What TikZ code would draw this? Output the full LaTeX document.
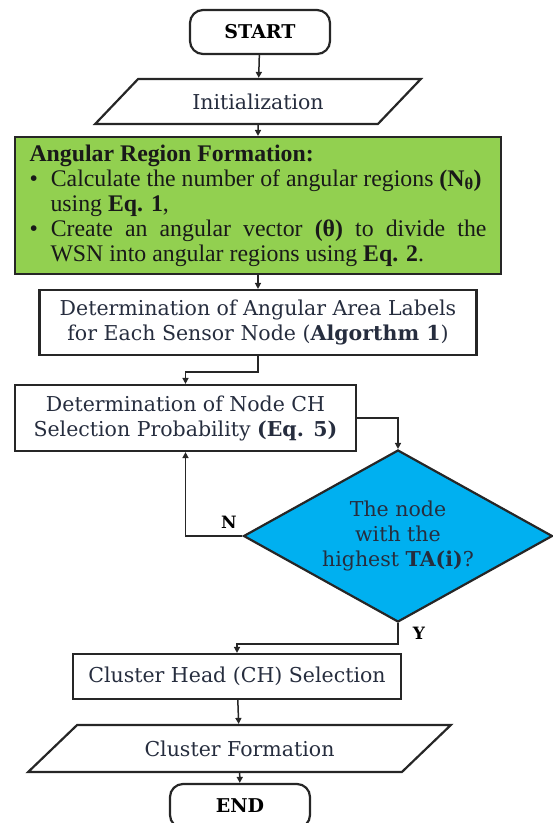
\documentclass[tikz,border=0pt]{standalone}
\usepackage{fontspec}
\setmainfont{Liberation Serif}
\newfontfamily\cambria{DejaVu Serif}
\usetikzlibrary{shapes.geometric,arrows.meta}

\definecolor{inkblue}{RGB}{38,45,62}
\definecolor{regiongreen}{RGB}{146,208,80}
\definecolor{choiceblue}{RGB}{0,176,240}

\tikzset{
  base/.style={draw=black!85, line width=2.2pt, text=inkblue, align=center,
    inner sep=0pt, font=\cambria\fontsize{20.5}{25}\selectfont},
  term/.style={base, rounded corners=13pt, minimum width=140pt, minimum height=44pt,
    text=black, font=\cambria\bfseries\fontsize{19}{25}\selectfont},
  io/.style={base, trapezium, trapezium stretches=true},
  proc/.style={base, rectangle},
  region/.style={base, rectangle, fill=regiongreen, text=black!90, align=justify,
    inner xsep=14.5pt, text width=457pt, minimum height=137pt,
    font=\fontsize{23.8}{25}\selectfont},
  choice/.style={base, diamond, aspect=1.8, fill=choiceblue,
    minimum width=309pt, minimum height=172pt},
  branch/.style={font=\cambria\bfseries\fontsize{17}{20}\selectfont},
  arr/.style={-{Triangle[length=6pt,width=6pt]}, line width=1.5pt, black!85},
}

\begin{document}
\begin{tikzpicture}[x=1pt, y=-1pt]

    % Page size of the reference
    \useasboundingbox (0,0) rectangle (553,823);

    % Terminals and input/output steps
    \node[term] (start) at (260,32) {START};
    \node[io, trapezium left angle=34, trapezium right angle=146,
          minimum width=326pt, minimum height=45pt] (init) at (258,101.5) {Initialization};

    % Angular region formation
    \node[region] (angular) at (258,205.5) {\textbf{Angular Region Formation:}
      \begin{list}{\textbullet}{\leftmargin=21pt \labelwidth=8pt \labelsep=13pt
          \itemsep=0pt \parsep=0pt \topsep=0pt \partopsep=0pt}
      \item Calculate the number of angular regions \textbf{(N\textsubscript{θ})}\\
        using \textbf{Eq. 1},
      \item Create an angular vector \textbf{(θ)} to divide the\linebreak
        WSN into angular regions using \textbf{Eq. 2}.
      \end{list}};

    % Processing steps
    \node[proc, minimum width=437pt, minimum height=65pt] (labels) at (258,322.5)
      {Determination of Angular Area Labels\\for Each Sensor Node (\textbf{Algorthm 1})};
    \node[proc, minimum width=341pt, minimum height=66pt] (prob) at (185.5,418)
      {Determination of Node CH\\Selection Probability \textbf{(Eq. 5)}};

    % Decision
    \node[choice] (highest) at (398,536) {The node\\with the\\highest \textbf{TA(i)}?};

    % Final steps
    \node[proc, minimum width=328pt, minimum height=45pt] (chsel) at (237,676.5)
      {Cluster Head (CH) Selection};
    \node[io, trapezium left angle=29, trapezium right angle=151,
          minimum width=423pt, minimum height=47pt] (form) at (239.5,748.5) {Cluster Formation};
    \node[term] (end) at (240,806) {END};

    % Branch labels
    \node[branch] (nlabel) at (229,522) {N};
    \node[branch] (ylabel) at (419,633) {Y};

    % Connectors
    \draw[arr] (start) -- (init);
    \draw[arr] (init) -- (angular);
    \draw[arr] (angular) -- (labels);
    \draw[arr] (labels.south) -- ++(0,16) -| (prob.north);
    \draw[arr] (prob.east) -| (highest.north);
    \draw[arr] (highest.west) -| (prob.south);
    \draw[arr] (highest.south) -- ++(0,21) -| (chsel.north);
    \draw[arr] (chsel) -- (form);
    \draw[arr] (form) -- (end);

\end{tikzpicture}
\end{document}
